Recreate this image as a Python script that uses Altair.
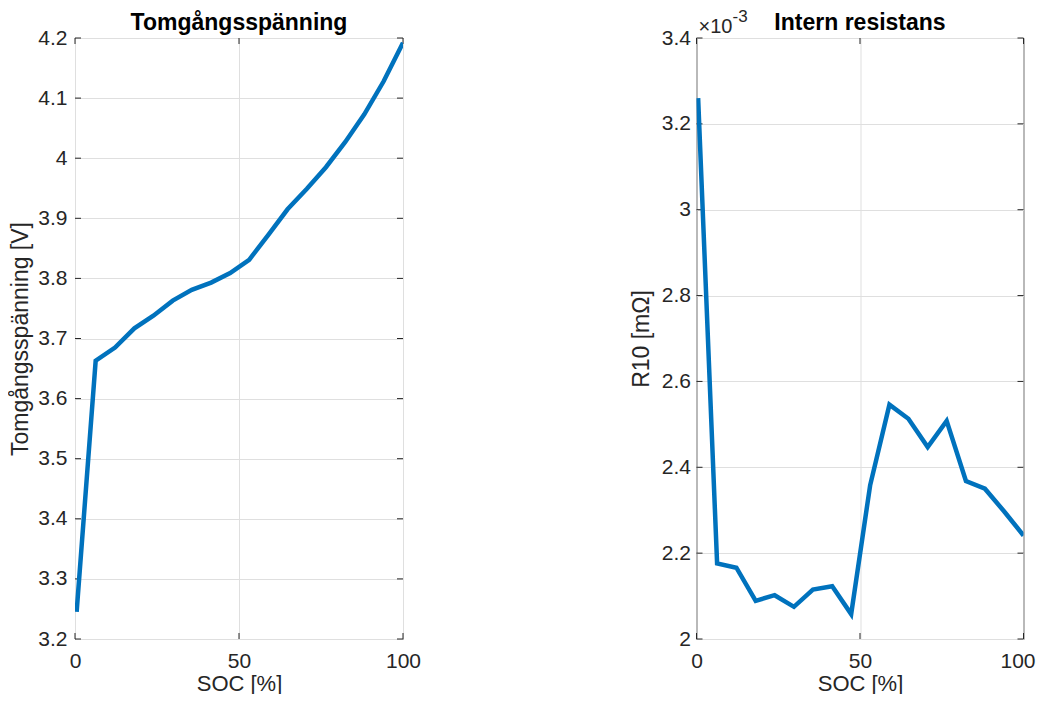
import altair as alt
import pandas as pd

# ---- data ----
soc = [0.5, 6.3, 12.2, 18.1, 23.9, 29.8, 35.6, 41.5, 47.3, 53.1,
       59.0, 64.8, 70.7, 76.5, 82.4, 88.2, 94.1, 100.0]
ocv = [3.245, 3.663, 3.685, 3.717, 3.738, 3.763, 3.781, 3.793, 3.809, 3.831,
       3.873, 3.915, 3.949, 3.985, 4.027, 4.073, 4.128, 4.192]
r10 = [3.260, 2.176, 2.166, 2.089, 2.102, 2.075, 2.115, 2.123, 2.058, 2.358,
       2.546, 2.513, 2.447, 2.508, 2.368, 2.350, 2.297, 2.241]  # x 10^-3

soc_ticks = [0, 50, 100]
ocv_ticks = [3.2, 3.3, 3.4, 3.5, 3.6, 3.7, 3.8, 3.9, 4.0, 4.1, 4.2]
r10_ticks = [2.0, 2.2, 2.4, 2.6, 2.8, 3.0, 3.2, 3.4]

titles = ["Tomgångsspänning", "Intern resistans"]
ylabels = ["Tomgångsspänning [V]", "R10 [mΩ]"]
xlabel = "SOC [%]"
exponent = ["×10", "-3"]

FONT = "Liberation Sans"
AX = "#262626"
LINE = "#0072BD"
H = 601


def panel(vals, yticks, ydomain, title, ylabel, width, label_pad, title_pad, last_shift):
    df = pd.DataFrame({"SOC": soc, "v": vals})
    x_enc = alt.X("SOC:Q", scale=alt.Scale(domain=[0, 100], nice=False, zero=False),
                  axis=alt.Axis(values=soc_ticks, title=xlabel, format="d",
                                labelFlush=False, labelPadding=11, titlePadding=2,
                                labelOffset=alt.condition("datum.value == 100",
                                                          alt.value(last_shift), alt.value(0)),
                                titleFontSize=22, ticks=False, domain=False))
    y_enc = alt.Y("v:Q", scale=alt.Scale(domain=ydomain, nice=False, zero=False),
                  axis=alt.Axis(values=yticks, title=ylabel, format=".1~f",
                                labelPadding=label_pad, titlePadding=title_pad,
                                ticks=False, domain=False))
    line = alt.Chart(df).mark_line(color=LINE, strokeWidth=4.5, clip=True).encode(x=x_enc, y=y_enc)
    yt = pd.DataFrame({"v": yticks})
    xt = pd.DataFrame({"SOC": soc_ticks})
    lt = alt.Chart(yt).mark_rule(color=AX, strokeWidth=1).encode(y=y_enc, x=alt.value(0), x2=alt.value(6))
    rt = alt.Chart(yt).mark_rule(color=AX, strokeWidth=1).encode(y=y_enc, x=alt.value(width - 6), x2=alt.value(width))
    bt = alt.Chart(xt).mark_rule(color=AX, strokeWidth=1).encode(x=x_enc, y=alt.value(H), y2=alt.value(H - 6))
    tt = alt.Chart(xt).mark_rule(color=AX, strokeWidth=1).encode(x=x_enc, y=alt.value(0), y2=alt.value(6))
    ttl = alt.Chart(pd.DataFrame({"t": [title]})).mark_text(
        align="center", baseline="alphabetic", font=FONT, fontSize=23,
        fontWeight="bold", color="#000000"
    ).encode(text="t:N", x=alt.value(width / 2), y=alt.value(-8))
    return [lt, rt, bt, tt, line, ttl]


left = alt.layer(*panel(ocv, ocv_ticks, [3.2, 4.2], titles[0], ylabels[0], 328, 8, 5.5, 0)
                 ).properties(width=328, height=H)

exp_base = alt.Chart(pd.DataFrame({"t": [exponent[0]]})).mark_text(
    align="left", baseline="alphabetic", font=FONT, fontSize=20, color=AX
).encode(text="t:N", x=alt.value(2), y=alt.value(-5.5))
exp_sup = alt.Chart(pd.DataFrame({"t": [exponent[1]]})).mark_text(
    align="left", baseline="alphabetic", font=FONT, fontSize=17, color=AX
).encode(text="t:N", x=alt.value(36), y=alt.value(-16.5))
right = alt.layer(*panel(r10, r10_ticks, [2.0, 3.4], titles[1], ylabels[1], 327, 6, 8, -6),
                  exp_base, exp_sup).properties(width=327, height=H)

chart = alt.hconcat(left, right, spacing=207.5).properties(
    padding={"left": 0, "top": -1, "right": 0, "bottom": -1}
).configure_view(
    stroke=AX, strokeWidth=1
).configure_axis(
    labelFont=FONT, titleFont=FONT, labelFontSize=21, titleFontSize=23,
    labelColor=AX, titleColor=AX, titleFontWeight="normal",
    gridColor="#dfdfdf", gridWidth=1, gridOpacity=1
)

chart.save("out.html", embed_options={"renderer": "svg", "actions": False})
